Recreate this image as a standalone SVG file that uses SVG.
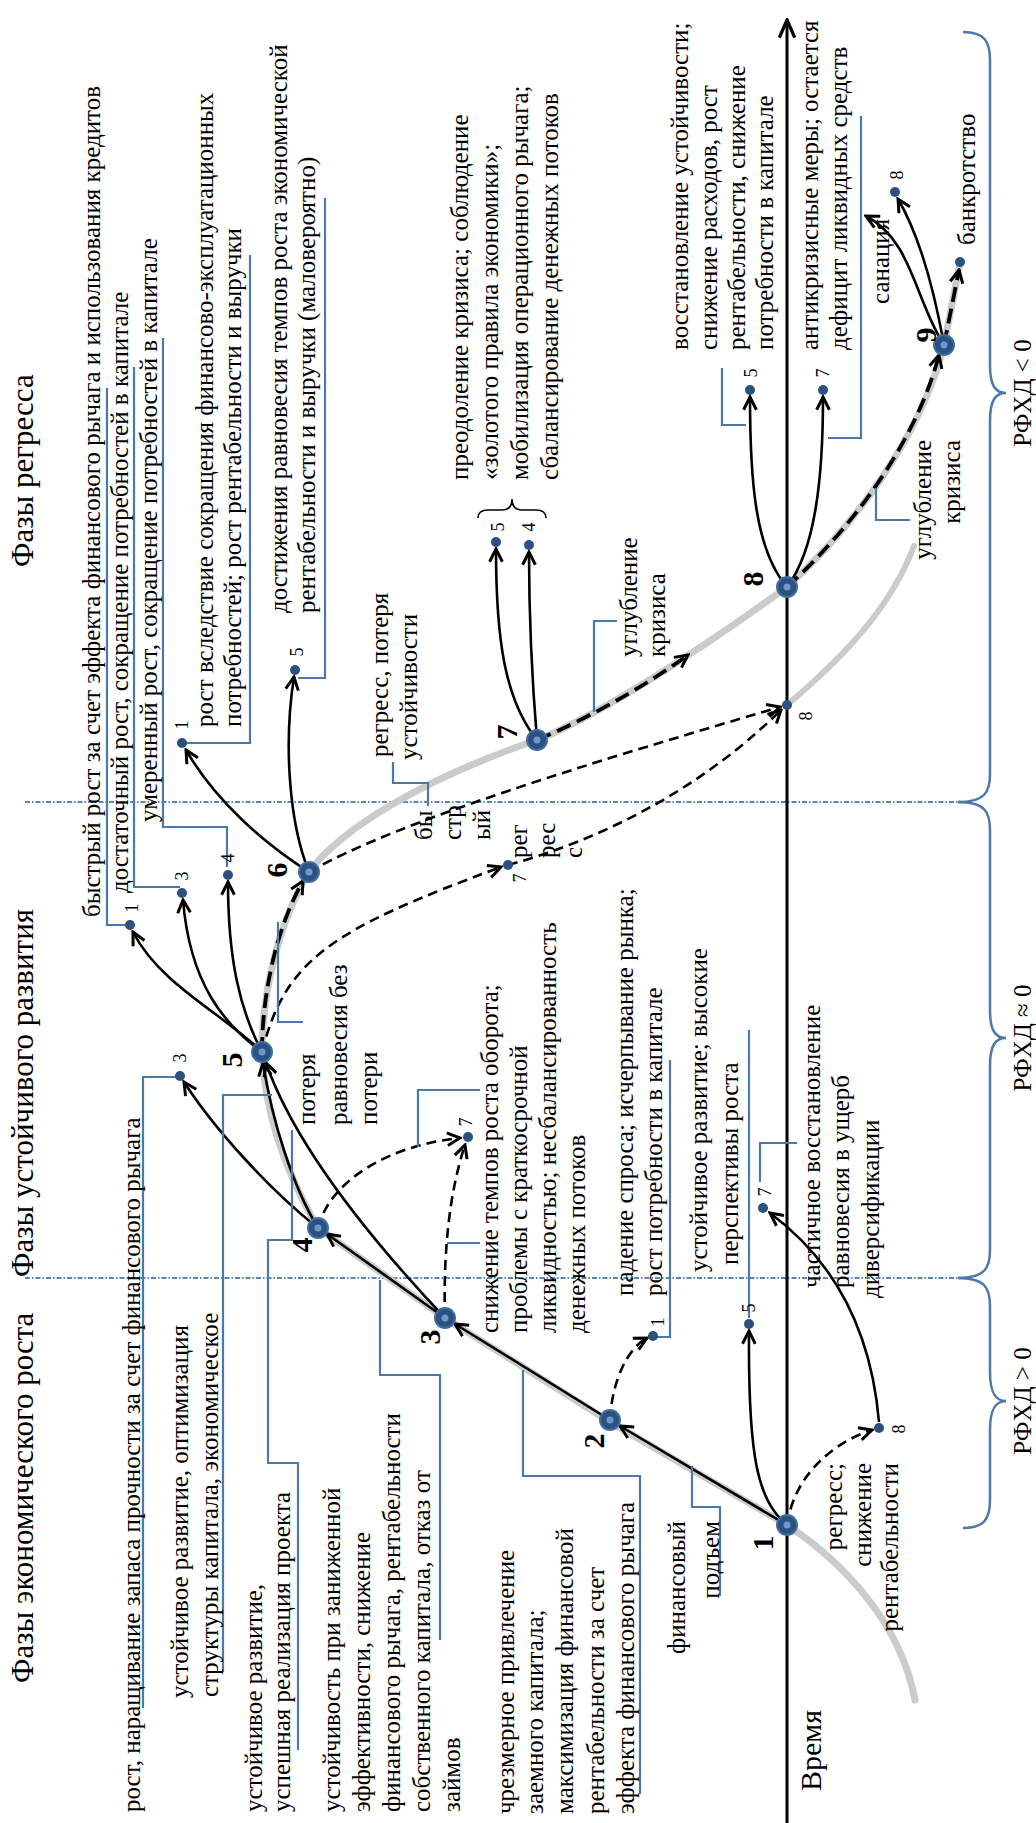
<svg xmlns="http://www.w3.org/2000/svg" width="1036" height="1823" viewBox="0 0 1036 1823">
<defs>
<style>
.t{font-family:"Liberation Serif","Times New Roman",serif;font-size:25px;fill:#000}
.ti{font-size:31px}
.nm{font-size:18px;text-anchor:middle}
.bg{font-size:30px;font-weight:bold;text-anchor:middle}
.mid{text-anchor:middle}
.end{text-anchor:end}
.ld{fill:none;stroke:#4d79aa;stroke-width:2.2}
.sep{fill:none;stroke:#5b87b8;stroke-width:2;stroke-dasharray:5 2 1.5 2}
.br{fill:none;stroke:#4d79aa;stroke-width:2.5}
.gray{fill:none;stroke:#cbcbcb;stroke-width:7;stroke-linecap:round}
.sol{fill:none;stroke:#000;stroke-width:2.6;marker-end:url(#ah)}
.dsh{fill:none;stroke:#000;stroke-width:2.6;stroke-dasharray:10 6;marker-end:url(#ah)}
.tds{fill:none;stroke:#000;stroke-width:3.8;stroke-dasharray:15 7;marker-end:url(#ah)}
.node{fill:#2c5080;stroke:#3f6da3;stroke-width:2}
.core{fill:#6c98cc}
.dot{fill:#2c5080}
</style>
<marker id="ah" viewBox="0 0 16 16" refX="14" refY="8" markerWidth="17" markerHeight="17" markerUnits="userSpaceOnUse" orient="auto">
<path d="M2,2 L14,8 L2,14" fill="none" stroke="#000" stroke-width="2.8" stroke-dasharray="none"/>
</marker>
<marker id="ax" viewBox="0 0 20 20" refX="18" refY="10" markerWidth="22" markerHeight="22" markerUnits="userSpaceOnUse" orient="auto">
<path d="M2,3 L18,10 L2,17" fill="none" stroke="#000" stroke-width="3"/>
</marker>
</defs>
<rect width="1036" height="1823" fill="#fff"/>

<g id="frame">
<line x1="25" y1="1278" x2="958" y2="1278" class="sep"/>
<line x1="25" y1="802" x2="958" y2="802" class="sep"/>
<line x1="787" y1="1823" x2="787" y2="20" stroke="#000" stroke-width="3" marker-end="url(#ax)"/>
<path class="br" d="M963,1528 C985,1528 990,1518 990,1500 L990,1430 C990,1410 995,1401 1006,1401 C995,1401 990,1392 990,1372 L990,1306 C990,1288 985,1278 958,1278"/>
<path class="br" d="M958,1278 C985,1278 990,1268 990,1250 L990,1066 C990,1046 995,1038 1006,1038 C995,1038 990,1030 990,1010 L990,830 C990,812 985,802 958,802"/>
<path class="br" d="M958,802 C985,802 990,792 990,774 L990,421 C990,401 995,393 1006,393 C995,393 990,385 990,365 L990,60 C990,42 985,32 963,32"/>
<text class="t mid" transform="translate(1031 1401) rotate(-90)">РФХД &gt; 0</text>
<text class="t mid" transform="translate(1031 1038) rotate(-90)">РФХД ≈ 0</text>
<text class="t mid" transform="translate(1031 393) rotate(-90)">РФХД &lt; 0</text>
<text class="t" style="font-size:30px" transform="translate(821 1791) rotate(-90)">Время</text>
<text class="t ti" transform="translate(33 1683) rotate(-90)">Фазы экономического роста</text>
<text class="t ti" transform="translate(33 1277) rotate(-90)">Фазы устойчивого развития</text>
<text class="t ti" transform="translate(33 567) rotate(-90)">Фазы регресса</text>
</g>

<g id="trajectory">
<path class="gray" d="M915,1700 C900,1620 840,1560 787,1525 L610,1422 L445,1318 L318,1228 C290,1180 265,1120 262,1052 C262,990 280,920 309,872 C340,830 420,780 537,740 C600,715 700,650 787,587 C850,530 920,440 944,345 C950,315 955,290 960,262"/>
<path class="gray" style="stroke-width:6" d="M787,705 C840,660 890,610 914,546"/>
</g>

<g id="connectors">
<path class="sol" d="M787,1525 L620,1426"/>
<path class="sol" d="M610,1420 L455,1324"/>
<path class="sol" d="M445,1318 L327,1234"/>
<path class="sol" d="M445,1318 C395,1265 300,1160 266,1063"/>
<path class="sol" d="M318,1228 C292,1185 272,1120 263,1063"/>
<path class="sol" d="M318,1228 C270,1190 215,1130 184,1082"/>
<path class="sol" d="M262,1052 C225,1015 160,985 133,932"/>
<path class="sol" d="M262,1052 C225,1025 190,985 183,900"/>
<path class="sol" d="M262,1052 C240,1010 228,960 228,882"/>
<path class="sol" d="M309,872 C262,842 215,800 186,750"/>
<path class="sol" d="M309,872 C288,820 284,740 294,677"/>
<path class="sol" d="M537,740 C505,700 496,640 496,549"/>
<path class="sol" d="M537,740 C532,680 529,620 529,552"/>
<path class="sol" d="M787,587 C755,550 750,480 750,397"/>
<path class="sol" d="M787,587 C815,550 823,480 823,397"/>
<path class="sol" d="M944,345 C915,300 912,240 866,216"/>
<path class="sol" d="M944,345 C935,295 922,240 898,199"/>
<path class="sol" d="M879,1422 C872,1340 840,1265 770,1213"/>
<path class="sol" d="M787,1525 C758,1500 748,1460 749,1331"/>
<path class="tds" d="M262,1052 C262,990 278,925 303,881"/>
<path class="tds" d="M537,740 C580,722 640,690 688,655"/>
<path class="tds" d="M787,587 C850,530 915,445 939,355"/>
<path class="tds" d="M944,345 C950,315 955,290 959,270"/>
<path class="dsh" d="M787,1525 C795,1470 840,1440 872,1430"/>
<path class="dsh" d="M610,1420 C612,1380 628,1348 647,1338"/>
<path class="dsh" d="M445,1318 C443,1250 450,1190 465,1145"/>
<path class="dsh" d="M318,1228 C330,1180 390,1145 460,1138"/>
<path class="dsh" d="M262,1052 C285,960 330,930 501,867"/>
<path class="dsh" d="M508,865 C600,840 700,790 781,710"/>
<path class="dsh" d="M309,872 C400,820 600,760 780,707"/>
</g>

<g id="leaders">
<polyline class="ld" points="143,1708 143,1077 176,1077"/>
<polyline class="ld" points="223,1672 223,1095 272,1095"/>
<polyline class="ld" points="298,1750 298,1463 268,1463 268,1240 292,1240 292,1130"/>
<polyline class="ld" points="440,1640 440,1375 380,1375 380,1280"/>
<polyline class="ld" points="640,1794 640,1476 523,1476 523,1370"/>
<polyline class="ld" points="720,1596 720,1507 692,1507 692,1466"/>
<polyline class="ld" points="480,1090 418,1090 418,1147"/>
<polyline class="ld" points="480,1243 447,1243"/>
<polyline class="ld" points="670,1060 670,1337 656,1337"/>
<polyline class="ld" points="749,1030 749,1318"/>
<polyline class="ld" points="797,1143 760,1143 760,1182"/>
<polyline class="ld" points="278,922 278,1022 303,1022"/>
<polyline class="ld" points="130,925 107,925 107,388"/>
<polyline class="ld" points="180,887 134,887 134,367"/>
<polyline class="ld" points="163,338 163,827 227,827 227,867"/>
<polyline class="ld" points="185,743 250,743 250,255"/>
<polyline class="ld" points="298,678 325,678 325,198"/>
<polyline class="ld" points="393,762 393,783 428,783 428,806"/>
<polyline class="ld" points="617,621 594,621 594,712"/>
<polyline class="ld" points="910,520 876,520 876,488"/>
<polyline class="ld" points="722,368 722,425 746,425"/>
<polyline class="ld" points="861,116 861,438 828,438"/>
</g>

<g id="labels">
<text class="t" transform="translate(140 1812) rotate(-90)">рост, наращивание запаса прочности за счет финансового рычага</text>
<text class="t" transform="translate(188 1698) rotate(-90)">устойчивое развитие, оптимизация</text>
<text class="t" transform="translate(218 1697) rotate(-90)">структуры капитала, экономическое</text>
<text class="t" transform="translate(262 1812) rotate(-90)">устойчивое развитие,</text>
<text class="t" transform="translate(290 1812) rotate(-90)">успешная реализация проекта</text>
<text class="t" transform="translate(340 1812) rotate(-90)">устойчивость при заниженной</text>
<text class="t" transform="translate(370 1812) rotate(-90)">эффективности, снижение</text>
<text class="t" transform="translate(400 1812) rotate(-90)">финансового рычага, рентабельности</text>
<text class="t" transform="translate(430 1812) rotate(-90)">собственного капитала, отказ от</text>
<text class="t" transform="translate(460 1812) rotate(-90)">займов</text>
<text class="t" transform="translate(514 1814) rotate(-90)">чрезмерное привлечение</text>
<text class="t" transform="translate(543 1814) rotate(-90)">заемного капитала;</text>
<text class="t" transform="translate(573 1814) rotate(-90)">максимизация финансовой</text>
<text class="t" transform="translate(604 1814) rotate(-90)">рентабельности за счет</text>
<text class="t" transform="translate(634 1814) rotate(-90)">эффекта финансового рычага</text>
<text class="t end" transform="translate(685 1521) rotate(-90)">финансовый</text>
<text class="t end" transform="translate(719 1521) rotate(-90)">подъем</text>
<text class="t end" transform="translate(842 1463) rotate(-90)">регресс;</text>
<text class="t end" transform="translate(871 1463) rotate(-90)">снижение</text>
<text class="t end" transform="translate(898 1463) rotate(-90)">рентабельности</text>
<text class="t" transform="translate(498 1333) rotate(-90)">снижение темпов роста оборота;</text>
<text class="t" transform="translate(527 1333) rotate(-90)">проблемы с краткосрочной</text>
<text class="t" transform="translate(556 1333) rotate(-90)">ликвидностью; несбалансированность</text>
<text class="t" transform="translate(585 1333) rotate(-90)">денежных потоков</text>
<text class="t" transform="translate(633 1296) rotate(-90)">падение спроса; исчерпывание рынка;</text>
<text class="t" transform="translate(662 1296) rotate(-90)">рост потребности в капитале</text>
<text class="t" transform="translate(707 1272) rotate(-90)">устойчивое развитие; высокие</text>
<text class="t" transform="translate(738 1265) rotate(-90)">перспективы роста</text>
<text class="t" transform="translate(820 1288) rotate(-90)">частичное восстановление</text>
<text class="t" transform="translate(849 1288) rotate(-90)">равновесия в ущерб</text>
<text class="t" transform="translate(879 1298) rotate(-90)">диверсификации</text>
<text class="t" transform="translate(315 1125) rotate(-90)">потеря</text>
<text class="t" transform="translate(347 1125) rotate(-90)">равновесия без</text>
<text class="t" transform="translate(377 1125) rotate(-90)">потери</text>
<text class="t" transform="translate(100 917) rotate(-90)">быстрый рост за счет эффекта финансового рычага и использования кредитов</text>
<text class="t" transform="translate(128 893) rotate(-90)">достаточный рост, сокращение потребностей в капитале</text>
<text class="t" transform="translate(157 822) rotate(-90)">умеренный рост, сокращение потребностей в капитале</text>
<text class="t" transform="translate(213 727) rotate(-90)">рост вследствие сокращения финансово-эксплуатационных</text>
<text class="t" transform="translate(241 727) rotate(-90)">потребностей; рост рентабельности и выручки</text>
<text class="t" transform="translate(287 613) rotate(-90)">достижения равновесия темпов роста экономической</text>
<text class="t" transform="translate(315 613) rotate(-90)">рентабельности и выручки (маловероятно)</text>
<text class="t" transform="translate(388 757) rotate(-90)">регресс, потеря</text>
<text class="t" transform="translate(417 760) rotate(-90)">устойчивости</text>
<text class="t" transform="translate(432 840) rotate(-90)">бы</text>
<text class="t" transform="translate(461 840) rotate(-90)">стр</text>
<text class="t" transform="translate(490 840) rotate(-90)">ый</text>
<text class="t" transform="translate(527 858) rotate(-90)">рег</text>
<text class="t" transform="translate(555 858) rotate(-90)">рес</text>
<text class="t" transform="translate(582 858) rotate(-90)">с</text>
<text class="t" transform="translate(637 657) rotate(-90)">углубление</text>
<text class="t" transform="translate(665 657) rotate(-90)">кризиса</text>
<text class="t end" transform="translate(931 440) rotate(-90)">углубление</text>
<text class="t end" transform="translate(960 440) rotate(-90)">кризиса</text>
<text class="t" transform="translate(468 480) rotate(-90)">преодоление кризиса; соблюдение</text>
<text class="t" transform="translate(498 480) rotate(-90)">«золотого правила экономики»;</text>
<text class="t" transform="translate(528 480) rotate(-90)">мобилизация операционного рычага;</text>
<text class="t" transform="translate(558 480) rotate(-90)">сбалансирование денежных потоков</text>
<path d="M478,518 Q478,510 488,510 L502,510 Q512,510 512,499 Q512,510 522,510 L536,510 Q546,510 546,518" fill="none" stroke="#000" stroke-width="1.6"/>
<text class="t" transform="translate(688 350) rotate(-90)">восстановление устойчивости;</text>
<text class="t" transform="translate(717 350) rotate(-90)">снижение расходов, рост</text>
<text class="t" transform="translate(745 350) rotate(-90)">рентабельности, снижение</text>
<text class="t" transform="translate(773 350) rotate(-90)">потребности в капитале</text>
<text class="t" transform="translate(818 350) rotate(-90)">антикризисные меры; остается</text>
<text class="t" transform="translate(847 350) rotate(-90)">дефицит ликвидных средств</text>
<text class="t" transform="translate(889 304) rotate(-90)">санация</text>
<text class="t" transform="translate(975 245) rotate(-90)">банкротство</text>
</g>

<g id="node-1"><circle class="node" cx="787" cy="1525" r="10"/><circle class="core" cx="787" cy="1525" r="3.5"/><text class="t bg" transform="translate(773 1543) rotate(-90)">1</text></g>
<g id="node-2"><circle class="node" cx="610" cy="1420" r="10"/><circle class="core" cx="610" cy="1420" r="3.5"/><text class="t bg" transform="translate(604 1441) rotate(-90)">2</text></g>
<g id="node-3"><circle class="node" cx="445" cy="1318" r="10"/><circle class="core" cx="445" cy="1318" r="3.5"/><text class="t bg" transform="translate(440 1337) rotate(-90)">3</text></g>
<g id="node-4"><circle class="node" cx="318" cy="1228" r="10"/><circle class="core" cx="318" cy="1228" r="3.5"/><text class="t bg" transform="translate(312 1245) rotate(-90)">4</text></g>
<g id="node-5"><circle class="node" cx="262" cy="1052" r="10"/><circle class="core" cx="262" cy="1052" r="3.5"/><text class="t bg" transform="translate(242 1060) rotate(-90)">5</text></g>
<g id="node-6"><circle class="node" cx="309" cy="872" r="10"/><circle class="core" cx="309" cy="872" r="3.5"/><text class="t bg" transform="translate(287 870) rotate(-90)">6</text></g>
<g id="node-7"><circle class="node" cx="537" cy="740" r="10"/><circle class="core" cx="537" cy="740" r="3.5"/><text class="t bg" transform="translate(517 732) rotate(-90)">7</text></g>
<g id="node-8"><circle class="node" cx="787" cy="587" r="10"/><circle class="core" cx="787" cy="587" r="3.5"/><text class="t bg" transform="translate(763 579) rotate(-90)">8</text></g>
<g id="node-9"><circle class="node" cx="944" cy="345" r="10"/><circle class="core" cx="944" cy="345" r="3.5"/><text class="t bg" transform="translate(936 335) rotate(-90)">9</text></g>

<g id="dot-1-5"><circle class="dot" cx="749" cy="1324" r="5"/><text class="t nm" transform="translate(755 1308) rotate(-90)">5</text></g>
<g id="dot-1-8"><circle class="dot" cx="879" cy="1428" r="5"/><text class="t nm" transform="translate(905 1429) rotate(-90)">8</text></g>
<g id="dot-8-7"><circle class="dot" cx="763" cy="1208" r="5"/><text class="t nm" transform="translate(771 1192) rotate(-90)">7</text></g>
<g id="dot-2-1"><circle class="dot" cx="653" cy="1336" r="5"/><text class="t nm" transform="translate(664 1322) rotate(-90)">1</text></g>
<g id="dot-3-7"><circle class="dot" cx="468" cy="1137" r="5"/><text class="t nm" transform="translate(472 1122) rotate(-90)">7</text></g>
<g id="dot-4-3"><circle class="dot" cx="180" cy="1076" r="5"/><text class="t nm" transform="translate(186 1058) rotate(-90)">3</text></g>
<g id="dot-5-1"><circle class="dot" cx="130" cy="925" r="5"/><text class="t nm" transform="translate(138 908) rotate(-90)">1</text></g>
<g id="dot-5-3"><circle class="dot" cx="182" cy="893" r="5"/><text class="t nm" transform="translate(188 876) rotate(-90)">3</text></g>
<g id="dot-5-4"><circle class="dot" cx="228" cy="875" r="5"/><text class="t nm" transform="translate(234 858) rotate(-90)">4</text></g>
<g id="dot-5-7"><circle class="dot" cx="508" cy="865" r="5"/><text class="t nm" transform="translate(526 878) rotate(-90)">7</text></g>
<g id="dot-6-1"><circle class="dot" cx="182" cy="743" r="5"/><text class="t nm" transform="translate(188 725) rotate(-90)">1</text></g>
<g id="dot-6-5"><circle class="dot" cx="295" cy="670" r="5"/><text class="t nm" transform="translate(303 652) rotate(-90)">5</text></g>
<g id="dot-6-8"><circle class="dot" cx="787" cy="705" r="5"/><text class="t nm" transform="translate(812 716) rotate(-90)">8</text></g>
<g id="dot-7-5"><circle class="dot" cx="496" cy="542" r="5"/><text class="t nm" transform="translate(504 527) rotate(-90)">5</text></g>
<g id="dot-7-4"><circle class="dot" cx="529" cy="545" r="5"/><text class="t nm" transform="translate(535 527) rotate(-90)">4</text></g>
<g id="dot-8-5"><circle class="dot" cx="750" cy="390" r="5"/><text class="t nm" transform="translate(757 373) rotate(-90)">5</text></g>
<g id="dot-8-7b"><circle class="dot" cx="823" cy="390" r="5"/><text class="t nm" transform="translate(829 373) rotate(-90)">7</text></g>
<g id="dot-9-8"><circle class="dot" cx="895" cy="192" r="5"/><text class="t nm" transform="translate(903 175) rotate(-90)">8</text></g>
<g id="dot-9-b"><circle class="dot" cx="960" cy="262" r="5"/></g>
</svg>
